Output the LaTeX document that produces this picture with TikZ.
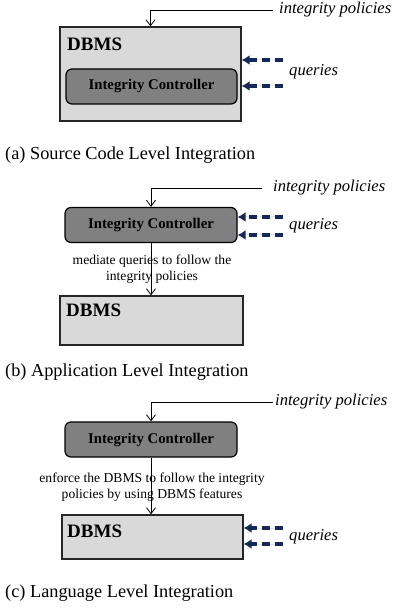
\documentclass[tikz,border=0pt]{standalone}
\usepackage{fontspec}
\setmainfont{Liberation Serif}
\usetikzlibrary{arrows.meta}

\definecolor{dbmsgray}{HTML}{D9D9D9}
\definecolor{icgray}{HTML}{808080}
\definecolor{qnavy}{HTML}{14285A}

\tikzset{
  dbmsbox/.style={draw=black!85, fill=dbmsgray, line width=1.2pt, minimum width=181pt, inner sep=0pt},
  icbox/.style={draw=black, fill=icgray, rounded corners=6pt, line width=1.2pt,
    minimum width=172pt, minimum height=35pt, inner sep=0pt, font=\fontsize{14.8}{16}\selectfont\bfseries},
  dbmslbl/.style={anchor=west, inner sep=0pt, font=\fontsize{19}{20}\selectfont\bfseries},
  poltext/.style={anchor=west, inner sep=0pt, font=\fontsize{16.6}{18}\selectfont\itshape},
  polarrow/.style={-{Straight Barb[length=6pt,width=9pt]}, line width=0.8pt},
  qarrow/.style={-{Latex[length=8pt,width=10pt]}, draw=qnavy, fill=qnavy, line width=3.4pt, dash pattern=on 8pt off 5pt},
  medtext/.style={align=center, inner sep=0pt, font=\fontsize{13.6}{16.5}\selectfont},
  captext/.style={anchor=west, inner sep=0pt, font=\fontsize{18.3}{20}\selectfont}
}

\begin{document}
\begin{tikzpicture}[x=1pt, y=-1pt]

  \useasboundingbox (0,0) rectangle (397,609);

  % (a) source code level
  \node[dbmsbox, minimum height=94pt] (dbms_a) at (150.5,74) {};
  \node[dbmslbl] (dbms_a_lbl) at (67,44) {DBMS};
  \node[icbox, minimum width=171pt] (ic_a) at (151.5,86.5) {Integrity Controller};
  \node[poltext] (pol_a) at (279,10) {integrity policies};
  \draw[polarrow] ([xshift=-6pt]pol_a.west) -| (dbms_a.north);
  \node[poltext] (q_a) at (289,72) {queries};
  \foreach \y in {60,86}
  {
    \coordinate (qa\y) at (283,\y);
    \draw[qarrow] (qa\y) -- (qa\y -| dbms_a.east);
  }
  \node[captext] (cap_a) at (5,155) {(a) Source Code Level Integration};

  % (b) application level
  \node[icbox] (ic_b) at (151,225) {Integrity Controller};
  \node[dbmsbox, minimum width=183pt, minimum height=49pt] (dbms_b) at (151.5,320.5) {};
  \node[dbmslbl] (dbms_b_lbl) at (66,310) {DBMS};
  \node[poltext] (pol_b) at (273,188) {integrity policies};
  \draw[polarrow] ([xshift=-11pt]pol_b.west) -| (ic_b.north);
  \node[poltext] (q_b) at (289,226) {queries};
  \foreach \y in {217,235}
  {
    \coordinate (qb\y) at (283,\y);
    \draw[qarrow] (qb\y) -- (qb\y -| ic_b.east);
  }
  \node[medtext] (med_b) at (152,269) {mediate queries to follow the\\integrity policies};
  \draw[polarrow] (ic_b.south) -- (ic_b.south |- dbms_b.north);
  \node[captext] (cap_b) at (5,372) {(b) Application Level Integration};

  % (c) language level
  \node[icbox] (ic_c) at (151,439.5) {Integrity Controller};
  \node[dbmsbox, minimum height=44pt] (dbms_c) at (152.5,537) {};
  \node[dbmslbl] (dbms_c_lbl) at (67,531) {DBMS};
  \node[poltext] (pol_c) at (275,402) {integrity policies};
  \draw[polarrow] ([xshift=-2pt]pol_c.west) -| (ic_c.north);
  \node[poltext] (q_c) at (289,537) {queries};
  \foreach \y in {528,544}
  {
    \coordinate (qc\y) at (283,\y);
    \draw[qarrow] (qc\y) -- (qc\y -| dbms_c.east);
  }
  \node[medtext] (med_c) at (152,487) {enforce the DBMS to follow the integrity\\policies by using DBMS features};
  \draw[polarrow] (ic_c.south) -- (ic_c.south |- dbms_c.north);
  \node[captext] (cap_c) at (5,593) {(c) Language Level Integration};

\end{tikzpicture}
\end{document}
